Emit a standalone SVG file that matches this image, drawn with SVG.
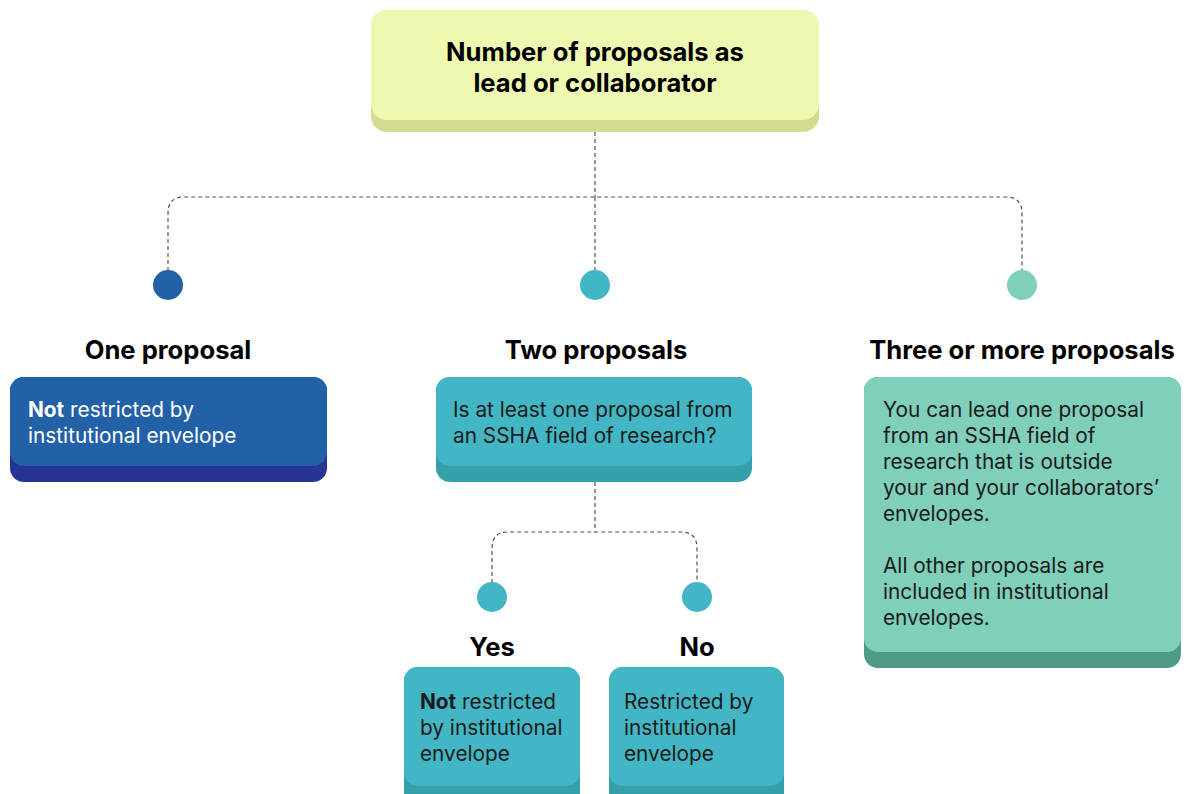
<svg xmlns="http://www.w3.org/2000/svg" width="1184" height="794" viewBox="0 0 1184 794">
<style>
.t{font-family:Inter,"Liberation Sans",sans-serif;font-size:20.8px;fill:#1a1a1a}
.w{fill:#ffffff}
.b{font-weight:700}
.h{font-family:Inter,"Liberation Sans",sans-serif;font-size:25.6px;font-weight:700;fill:#000;text-anchor:middle}
.c{fill:none;stroke:#555;stroke-width:1.2;stroke-dasharray:4 3}
</style>
<rect width="1184" height="794" fill="#ffffff"/>
<g id="connectors">
<path class="c" d="M595 132 V197"/>
<path class="c" d="M168 285 V213 Q168 197 184 197 H1006 Q1022 197 1022 213 V285"/>
<path class="c" d="M595 197 V285"/>
<path class="c" d="M595 482 V532"/>
<path class="c" d="M492 597 V548 Q492 532 508 532 H681 Q697 532 697 548 V597"/>
</g>
<g id="root">
<rect x="371" y="10" width="448" height="122" rx="16" fill="#d4db90"/>
<rect x="371" y="10" width="448" height="110" rx="16" fill="#eef8b0"/>
<text class="h" x="595" y="61" font-size="27.5">Number of proposals as</text>
<text class="h" x="595" y="92" font-size="27.5">lead or collaborator</text>
</g>
<g id="one">
<circle cx="168" cy="285" r="15" fill="#2260a8"/>
<text class="h" x="168" y="359">One proposal</text>
<rect x="10" y="377" width="317" height="105" rx="14" fill="#263496"/>
<rect x="10" y="377" width="317" height="89" rx="14" fill="#2260a8"/>
<text class="t w" x="28" y="417"><tspan class="b">Not</tspan> restricted by</text>
<text class="t w" x="28" y="443">institutional envelope</text>
</g>
<g id="two">
<circle cx="595" cy="285" r="15" fill="#42b6c4"/>
<text class="h" x="596" y="359">Two proposals</text>
<rect x="436" y="377" width="316" height="105" rx="14" fill="#35a0aa"/>
<rect x="436" y="377" width="316" height="89" rx="14" fill="#42b6c4"/>
<text class="t" x="453" y="417">Is at least one proposal from</text>
<text class="t" x="453" y="443">an SSHA field of research?</text>
</g>
<g id="three">
<circle cx="1022" cy="285" r="15" fill="#7fcfbb"/>
<text class="h" x="1022" y="359">Three or more proposals</text>
<rect x="864" y="377" width="317" height="291" rx="14" fill="#509a88"/>
<rect x="864" y="377" width="317" height="275" rx="14" fill="#7fcfbb"/>
<text class="t" x="883" y="417">You can lead one proposal</text>
<text class="t" x="883" y="443">from an SSHA field of</text>
<text class="t" x="883" y="469">research that is outside</text>
<text class="t" x="883" y="495">your and your collaborators’</text>
<text class="t" x="883" y="521">envelopes.</text>
<text class="t" x="883" y="573">All other proposals are</text>
<text class="t" x="883" y="599">included in institutional</text>
<text class="t" x="883" y="625">envelopes.</text>
</g>
<g id="yes">
<circle cx="492" cy="597" r="15" fill="#42b6c4"/>
<text class="h" x="492" y="656">Yes</text>
<rect x="404" y="667" width="176" height="140" rx="14" fill="#35a0aa"/>
<rect x="404" y="667" width="176" height="119" rx="14" fill="#42b6c4"/>
<text class="t" x="420" y="709"><tspan class="b">Not</tspan> restricted</text>
<text class="t" x="420" y="735">by institutional</text>
<text class="t" x="420" y="761">envelope</text>
</g>
<g id="no">
<circle cx="697" cy="597" r="15" fill="#42b6c4"/>
<text class="h" x="697" y="656">No</text>
<rect x="609" y="667" width="175" height="140" rx="14" fill="#35a0aa"/>
<rect x="609" y="667" width="175" height="119" rx="14" fill="#42b6c4"/>
<text class="t" x="624" y="709">Restricted by</text>
<text class="t" x="624" y="735">institutional</text>
<text class="t" x="624" y="761">envelope</text>
</g>
</svg>
